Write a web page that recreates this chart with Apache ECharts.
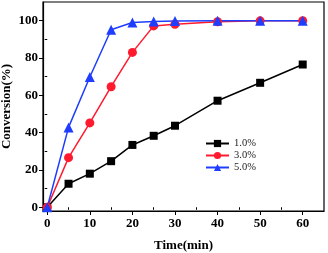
<!DOCTYPE html>
<html><head><meta charset="utf-8">
<script src="https://cdn.jsdelivr.net/npm/echarts@6/dist/echarts.min.js"></script>
<style>html,body{margin:0;padding:0;background:#fff}#c{width:328px;height:253px}</style>
</head><body><div id="c"></div>
<script>
const times = [0, 5, 10, 15, 20, 25, 30, 40, 50, 60];
const seriesNames = ['1.0%', '3.0%', '5.0%'];
const conv1 = [0, 12.6, 18, 24.7, 33.4, 38.3, 43.7, 57.1, 66.7, 76.5];
const conv3 = [0, 26.6, 45.2, 64.6, 83.0, 97.2, 98.1, 99.4, 99.9, 100];
const conv5 = [0, 42.8, 69.8, 95.1, 99.0, 99.5, 99.8, 100, 100, 100];
const xTicks = [0, 10, 20, 30, 40, 50, 60];
const xMinorTicks = [5, 15, 25, 35, 45, 55];
const yTicks = [0, 20, 40, 60, 80, 100];
const yMinorTicks = [10, 30, 50, 70, 90];

const font = 'Liberation Serif';
const chart = echarts.init(document.getElementById('c'), null, {renderer: 'canvas'});
function mk(name, vals, color, symbol, size) {
  return {
    name: name, type: 'line', data: times.map((t, i) => [t, vals[i]]),
    symbol: symbol, symbolSize: size,
    lineStyle: {color: color, width: 1.5},
    itemStyle: {color: color},
    animation: false
  };
}
const lab = {fontFamily: font, fontSize: 13, fontWeight: 'bold', color: '#000'};
function minorAxis(pos, min, max, vals) {
  return {
    type: 'value', position: pos, min: min, max: max, offset: 0,
    axisLine: {show: false}, axisLabel: {show: false}, splitLine: {show: false},
    axisTick: {show: true, inside: false, length: 2.5, lineStyle: {color: '#000'}, customValues: vals}
  };
}
chart.setOption({
  animation: false,
  grid: {left: 43, top: 2, right: 4, bottom: 42, show: true, borderColor: '#000', borderWidth: 1.2,
    containLabel: false, outerBoundsMode: 'none'},
  legend: {
    data: seriesNames, orient: 'vertical', left: 200, top: 133,
    itemWidth: 23, itemHeight: 9, itemGap: 1,
    textStyle: {fontFamily: font, fontSize: 10.5, color: '#222'}
  },
  xAxis: [{
    type: 'value', position: 'bottom', min: -1, max: 65,
    name: 'Time(min)', nameLocation: 'middle', nameGap: 28,
    nameTextStyle: lab,
    axisLine: {onZero: false, lineStyle: {color: '#000', width: 1.2}},
    axisTick: {show: true, inside: false, length: 4, lineStyle: {color: '#000'}, customValues: xTicks},
    axisLabel: Object.assign({margin: 6, customValues: xTicks}, lab),
    splitLine: {show: false}
  }, minorAxis('bottom', -1, 65, xMinorTicks)],
  yAxis: [{
    type: 'value', position: 'left', min: -2, max: 110,
    name: 'Conversion(%)', nameLocation: 'middle', nameGap: 30, nameMoveOverlap: false,
    nameTextStyle: lab,
    axisLine: {onZero: false, lineStyle: {color: '#000', width: 1.2}},
    axisTick: {show: true, inside: false, length: 4, lineStyle: {color: '#000'}, customValues: yTicks},
    axisLabel: Object.assign({margin: 5, customValues: yTicks}, lab),
    splitLine: {show: false}
  }, minorAxis('left', -2, 110, yMinorTicks)],
  series: [
    mk(seriesNames[0], conv1, '#000000', 'rect', 8),
    mk(seriesNames[1], conv3, '#ff1a2e', 'circle', 9),
    mk(seriesNames[2], conv5, '#1f3dff', 'triangle', 10)
  ]
});
</script></body></html>
